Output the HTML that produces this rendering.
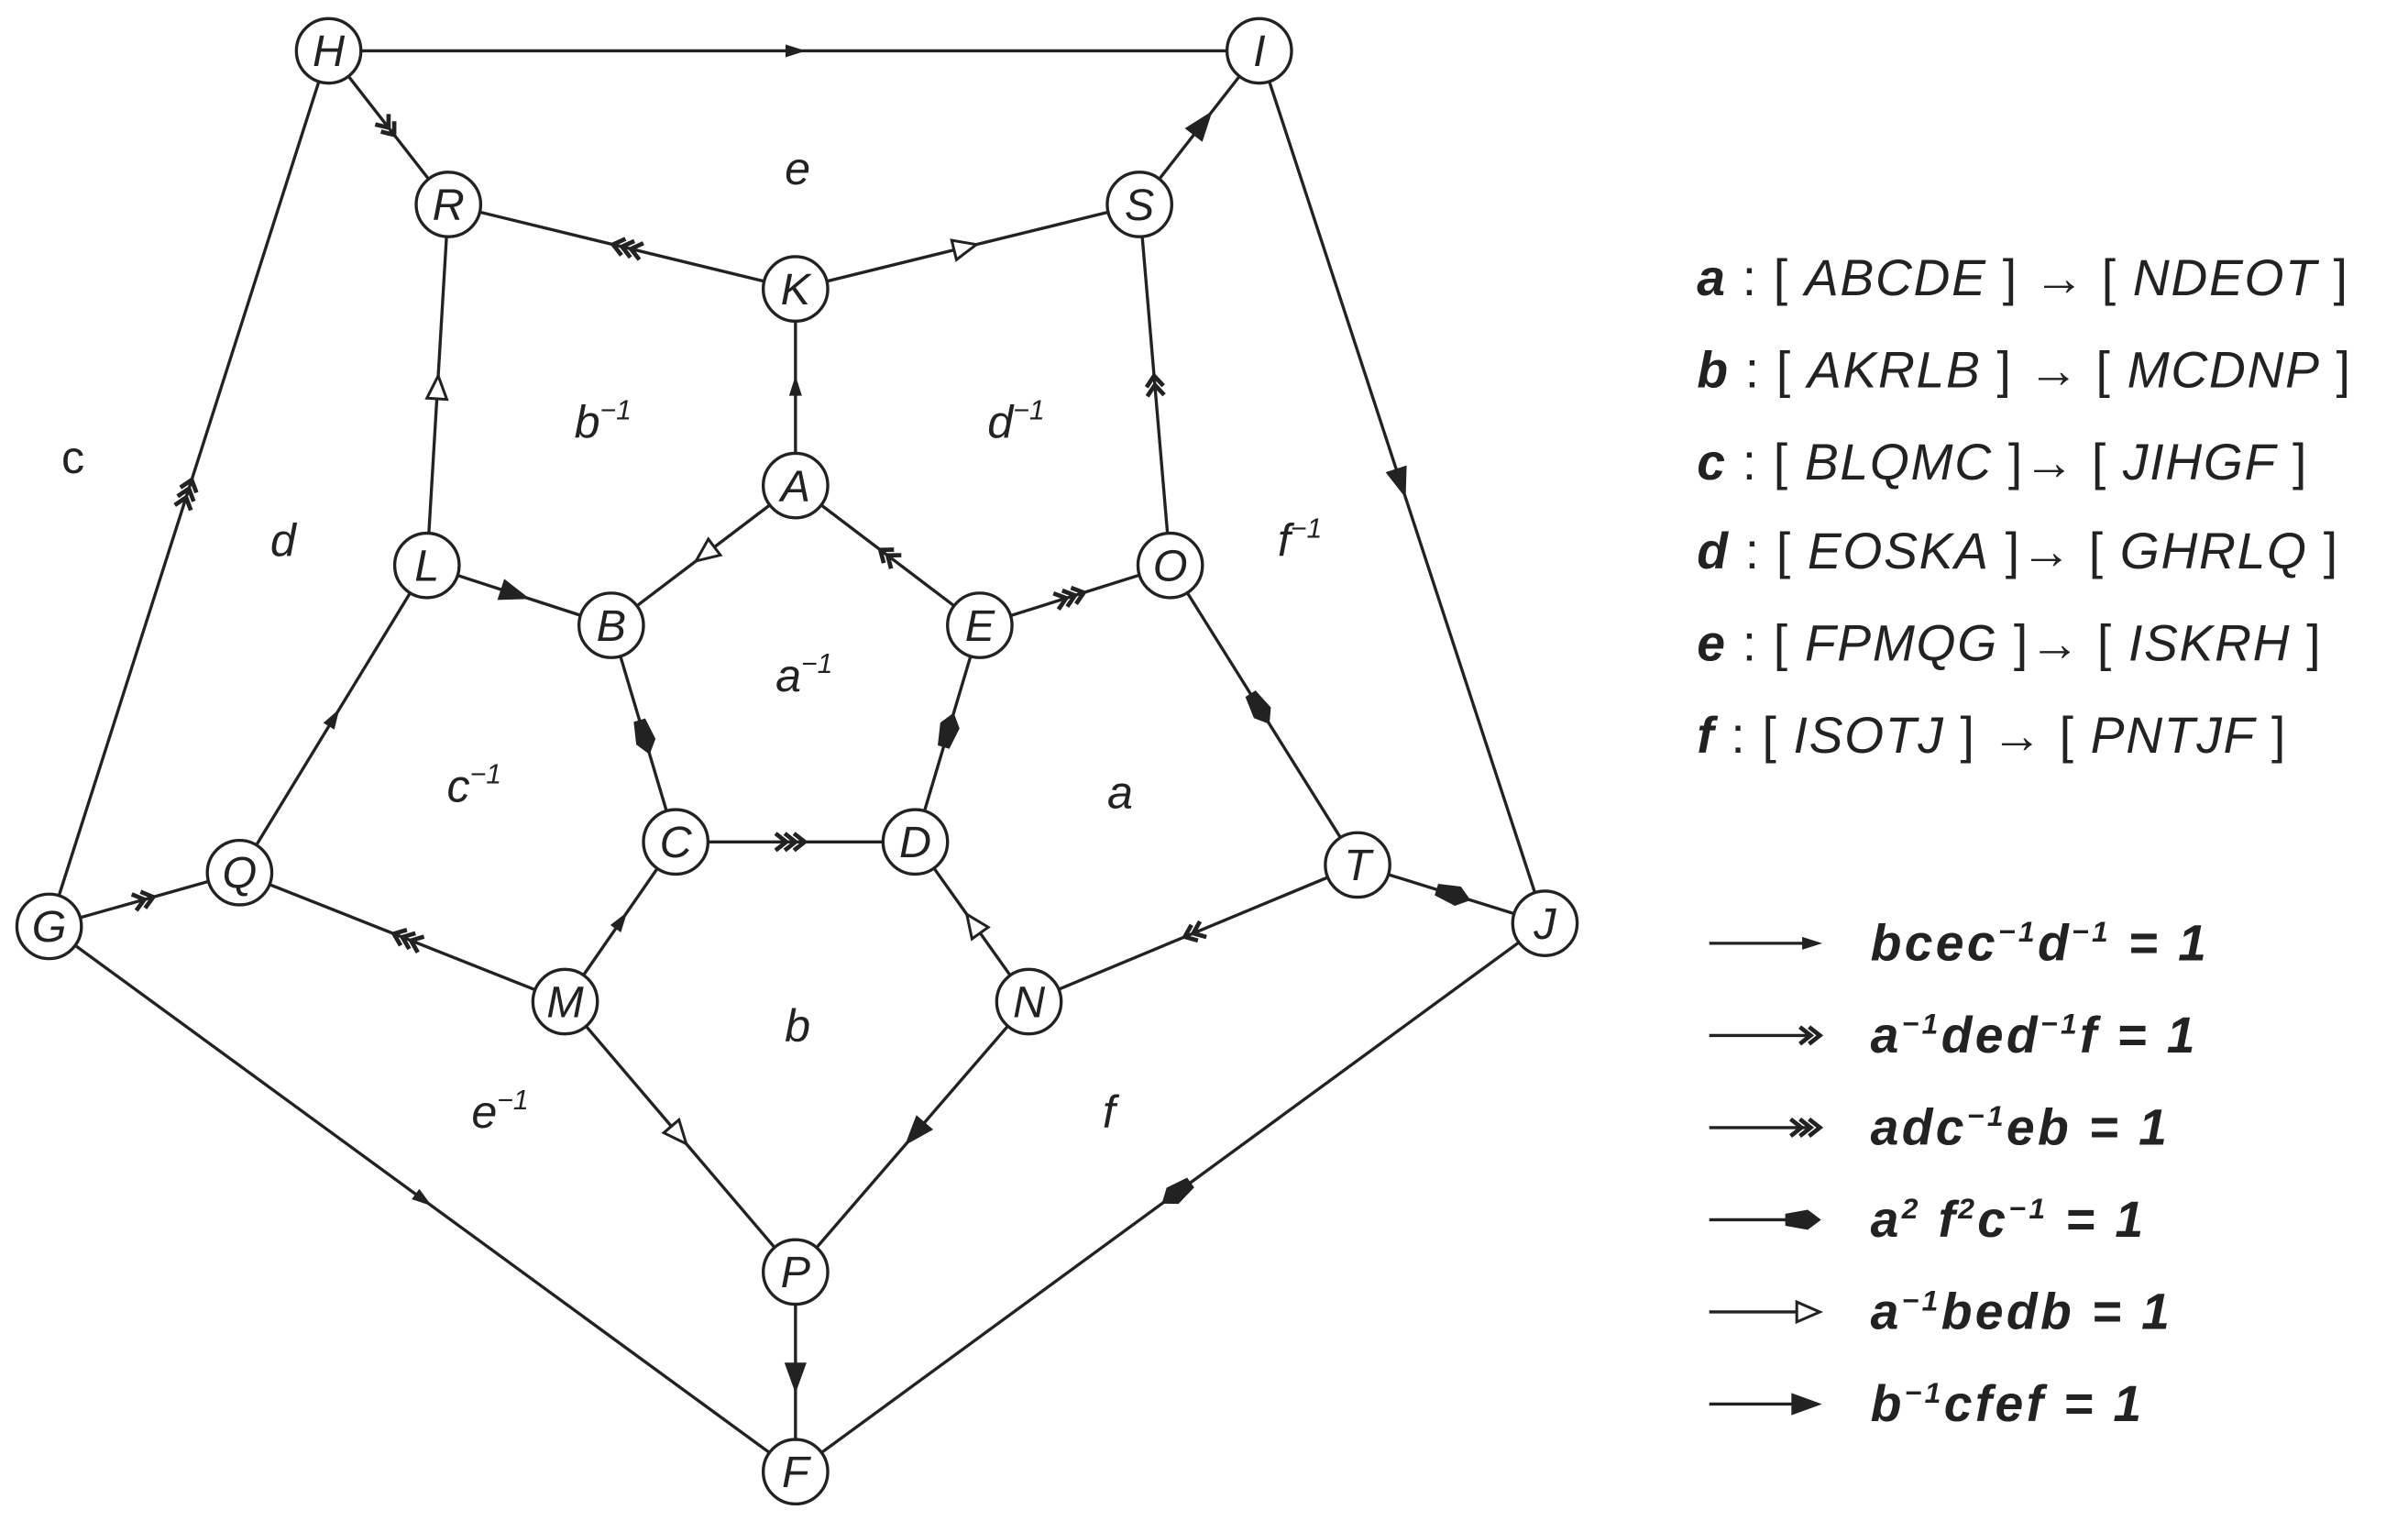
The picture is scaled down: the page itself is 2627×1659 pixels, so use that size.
<!DOCTYPE html>
<html><head><meta charset="utf-8">
<style>
html,body{margin:0;padding:0;background:#fff;}
svg{display:block;}
text{font-family:"Liberation Sans",sans-serif;fill:#222;}
</style></head>
<body>
<svg id="s" width="2627" height="1659" viewBox="0 0 1568 990" xmlns="http://www.w3.org/2000/svg">
<g id="edges" stroke="#222" stroke-width="2" fill="none"></g>
<g id="marks"></g>
<g id="nodes"></g>
<g font-style="italic" font-size="30">
<text x="511" y="120">e</text>
<text x="374" y="285">b<tspan font-size="18" dy="-12">−1</tspan></text>
<text x="643" y="285">d<tspan font-size="18" dy="-12">−1</tspan></text>
<text x="40" y="308" font-style="normal">c</text>
<text x="176" y="362">d</text>
<text x="832" y="362">f<tspan font-size="18" dy="-12">−1</tspan></text>
<text x="505" y="450">a<tspan font-size="18" dy="-12">−1</tspan></text>
<text x="291" y="522">c<tspan font-size="18" dy="-12">−1</tspan></text>
<text x="721" y="526">a</text>
<text x="511" y="678">b</text>
<text x="307" y="734">e<tspan font-size="18" dy="-12">−1</tspan></text>
<text x="718" y="734">f</text>
</g>
<g font-size="33" letter-spacing="1">
<text x="1105" y="192"><tspan font-weight="bold" font-style="italic">a</tspan> : [ <tspan font-style="italic">ABCDE</tspan> ] → [ <tspan font-style="italic">NDEOT</tspan> ]</text>
<text x="1105" y="252"><tspan font-weight="bold" font-style="italic">b</tspan> : [ <tspan font-style="italic">AKRLB</tspan> ] → [ <tspan font-style="italic">MCDNP</tspan> ]</text>
<text x="1105" y="312"><tspan font-weight="bold" font-style="italic">c</tspan> : [ <tspan font-style="italic">BLQMC</tspan> ]→  [ <tspan font-style="italic">JIHGF</tspan> ]</text>
<text x="1105" y="370"><tspan font-weight="bold" font-style="italic">d</tspan> : [ <tspan font-style="italic">EOSKA</tspan> ]→  [ <tspan font-style="italic">GHRLQ</tspan> ]</text>
<text x="1105" y="430"><tspan font-weight="bold" font-style="italic">e</tspan> : [ <tspan font-style="italic">FPMQG</tspan> ]→  [ <tspan font-style="italic">ISKRH</tspan> ]</text>
<text x="1105" y="490"><tspan font-weight="bold" font-style="italic">f</tspan>  : [ <tspan font-style="italic">ISOTJ</tspan> ]   →  [ <tspan font-style="italic">PNTJF</tspan> ]</text>
</g>
<g font-size="33" font-weight="bold" font-style="italic" letter-spacing="2">
<text x="1218" y="625">bcec<tspan font-size="19" dy="-12">−1</tspan><tspan dy="12">d</tspan><tspan font-size="19" dy="-12">−1</tspan><tspan dy="12"> = 1</tspan></text>
<text x="1218" y="685">a<tspan font-size="19" dy="-12">−1</tspan><tspan dy="12">ded</tspan><tspan font-size="19" dy="-12">−1</tspan><tspan dy="12">f = 1</tspan></text>
<text x="1218" y="745">adc<tspan font-size="19" dy="-12">−1</tspan><tspan dy="12">eb = 1</tspan></text>
<text x="1218" y="805">a<tspan font-size="19" dy="-12">2</tspan><tspan dy="12"> f</tspan><tspan font-size="19" dy="-12">2</tspan><tspan dy="12">c</tspan><tspan font-size="19" dy="-12">−1</tspan><tspan dy="12"> = 1</tspan></text>
<text x="1218" y="865">a<tspan font-size="19" dy="-12">−1</tspan><tspan dy="12">bedb = 1</tspan></text>
<text x="1218" y="925">b<tspan font-size="19" dy="-12">−1</tspan><tspan dy="12">cfef = 1</tspan></text>
</g>
<g id="legend" stroke="#222" stroke-width="2"></g>
</svg>
<script>
var N={H:[214,33],I:[820,33],R:[292,133],S:[742,133],K:[518,188],A:[518,316],L:[278,368],O:[762,368],B:[398,407],E:[638,407],C:[440,548],D:[596,548],Q:[156,568],T:[884,563],G:[32,603],J:[1006,601],M:[368,652],N:[670,652],P:[518,828],F:[518,958]};
var E=[["H","I","thin",.5],["H","R","dbl",.5],["S","I","solid",.55],["I","J","solid",.5],["K","R","tri",.5],["K","S","open",.5],["A","K","thin",.5],["L","R","open",.5],["O","S","dbl",.5],["A","B","open",.5],["E","A","dbl",.5],["L","B","solid",.5],["E","O","tri",.5],["Q","L","thin",.5],["O","T","fat",.5],["B","C","fat",.55],["D","E","fat",.55],["C","D","tri",.5],["M","C","thin",.5],["N","D","open",.5],["T","N","dbl",.5],["T","J","fat",.55],["M","Q","tri",.5],["G","Q","dbl",.5],["G","H","tri",.5],["M","P","open",.5],["N","P","solid",.5],["P","F","solid",.55],["G","F","thin",.5],["J","F","fat",.5]];
var NS="http://www.w3.org/2000/svg";
function el(t,a,p){var e=document.createElementNS(NS,t);for(var k in a)e.setAttribute(k,a[k]);p.appendChild(e);return e;}
function mark(type,g){
 var s={fill:"#222",stroke:"#222","stroke-width":1};
 if(type=="thin")el("polygon",Object.assign({points:"0,0 -11,-3.5 -11,3.5"},s),g);
 else if(type=="solid")el("polygon",Object.assign({points:"0,0 -18,-6.5 -18,6.5"},s),g);
 else if(type=="open")el("polygon",{points:"0,0 -15,-6.5 -15,6.5",fill:"#fff",stroke:"#222","stroke-width":1.8},g);
 else if(type=="fat")el("path",Object.assign({d:"M0,0 L-8,-6 L-22,-3.5 L-22,3.5 L-8,6 Z"},s),g);
 else{var n=type=="dbl"?2:3;for(var i=0;i<n;i++){var o=-i*6;el("polyline",{points:(o-7)+",-5.5 "+o+",0 "+(o-7)+",5.5",fill:"none",stroke:"#222","stroke-width":2.8},g);}}
}
var eg=document.getElementById("edges"),mg=document.getElementById("marks"),ng=document.getElementById("nodes");
E.forEach(function(e){var a=N[e[0]],b=N[e[1]];el("line",{x1:a[0],y1:a[1],x2:b[0],y2:b[1]},eg);
 var x=a[0]+(b[0]-a[0])*e[3],y=a[1]+(b[1]-a[1])*e[3],ang=Math.atan2(b[1]-a[1],b[0]-a[0])*180/Math.PI;
 var g=el("g",{transform:"translate("+(x+6*Math.cos(ang*Math.PI/180))+","+(y+6*Math.sin(ang*Math.PI/180))+") rotate("+ang+")"},mg);mark(e[2],g);});
for(var k in N){var p=N[k];el("circle",{cx:p[0],cy:p[1],r:21,fill:"#fff",stroke:"#222","stroke-width":2},ng);
 var t=el("text",{x:p[0],y:p[1]+10,"text-anchor":"middle","font-size":29,"font-style":"italic"},ng);t.textContent=k;}
var lg=document.getElementById("legend"),types=["thin","dbl","tri","fat","open","solid"];
types.forEach(function(t,i){var y=614+i*60;el("line",{x1:1113,y1:y,x2:1180,y2:y},lg);var g=el("g",{transform:"translate(1185,"+y+")"},lg);mark(t,g);});
</script>
</body></html>
